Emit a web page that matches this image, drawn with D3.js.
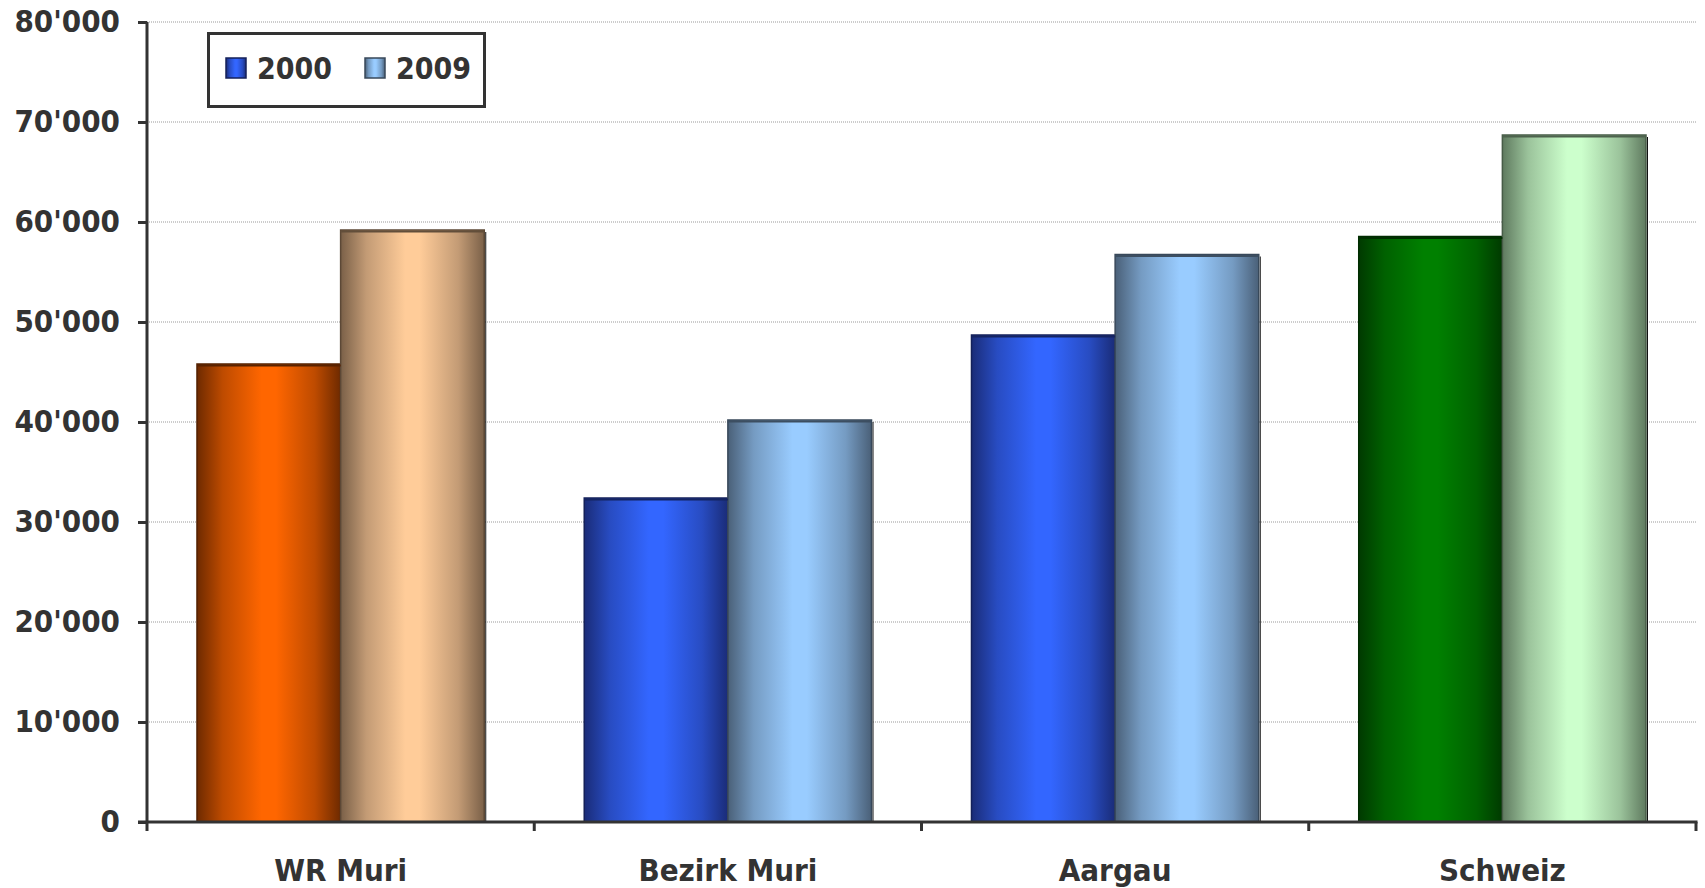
<!DOCTYPE html>
<html><head><meta charset="utf-8">
<script src="https://cdn.jsdelivr.net/npm/d3@7"></script>
<style>
html,body{margin:0;padding:0;background:#fff;}
svg{display:block;}
text{font-family:"DejaVu Sans Condensed","DejaVu Sans",Verdana,sans-serif;font-weight:bold;fill:#333;}
</style></head>
<body>
<svg id="chart" width="1705" height="888"></svg>
<script>
const categories = ["WR Muri", "Bezirk Muri", "Aargau", "Schweiz"];
const series = ["2000", "2009"];
const values2000 = [45800, 32400, 48700, 58550];
const values2009 = [59200, 40200, 56750, 68700];
const yTicks = [0, 10000, 20000, 30000, 40000, 50000, 60000, 70000, 80000];

// styling (edge colour, centre colour) per category per series
const palette = [
  [["#6e2a00", "#ff6600"], ["#7a6048", "#ffcc99"]],
  [["#1a2c78", "#3366ff"], ["#4a6078", "#99ccff"]],
  [["#1a2c78", "#3366ff"], ["#4a6078", "#99ccff"]],
  [["#003a00", "#008000"], ["#5f7a5f", "#ccffcc"]]
];

const svg = d3.select("#chart");
const L = 147, R = 1696, T = 22, B = 822;

const y = d3.scaleLinear().domain([0, 80000]).range([B, T]);
const x0 = d3.scaleBand().domain(categories).range([L, R]).paddingInner(0).paddingOuter(0);
const x1 = d3.scaleBand().domain(series).range([0, x0.bandwidth()]).paddingInner(0).paddingOuter(0.348);

const defs = svg.append("defs");
function grad(id, edge, centre) {
  const g = defs.append("linearGradient").attr("id", id).attr("x1", "0%").attr("x2", "100%").attr("y1", "0%").attr("y2", "0%");
  const mid = d3.interpolateRgb(edge, centre);
  [[0, 0], [0.18, 0.55], [0.45, 1], [0.55, 1], [0.82, 0.55], [1, 0]].forEach(([o, t]) => {
    g.append("stop").attr("offset", o).attr("stop-color", mid(t));
  });
}
palette.forEach((p, ci) => p.forEach((c, si) => grad(`g${ci}_${si}`, c[0], c[1])));

const fmt = v => d3.format(",")(v).replace(/,/g, "'");

// gridlines
svg.append("g").selectAll("line").data(yTicks.filter(t => t > 0)).join("line")
  .attr("x1", L).attr("x2", R).attr("y1", d => y(d)).attr("y2", d => y(d))
  .attr("stroke", "#999").attr("stroke-width", 1).attr("stroke-dasharray", "1,1");

// bars
const data = [];
categories.forEach((c, ci) => {
  data.push({cat: c, ci, s: "2000", si: 0, v: values2000[ci]});
  data.push({cat: c, ci, s: "2009", si: 1, v: values2009[ci]});
});
const bars = svg.append("g");
// thin shadow on right of 2009 bars
bars.selectAll("line.sh").data(data.filter(d => d.si === 1)).join("line").attr("class", "sh")
  .attr("x1", d => x0(d.cat) + x1(d.s) + x1.bandwidth() + 1.5).attr("x2", d => x0(d.cat) + x1(d.s) + x1.bandwidth() + 1.5)
  .attr("y1", d => y(d.v) + 2).attr("y2", y(0))
  .attr("stroke", "#111").attr("stroke-width", 1);
bars.selectAll("rect").data(data).join("rect")
  .attr("x", d => x0(d.cat) + x1(d.s))
  .attr("y", d => y(d.v))
  .attr("width", x1.bandwidth())
  .attr("height", d => y(0) - y(d.v))
  .attr("fill", d => `url(#g${d.ci}_${d.si})`)
  .attr("stroke", d => d3.color(palette[d.ci][d.si][0]).darker(0.8))
  .attr("stroke-width", 1.5);
// top edge
bars.selectAll("line.top").data(data).join("line").attr("class", "top")
  .attr("x1", d => x0(d.cat) + x1(d.s)).attr("x2", d => x0(d.cat) + x1(d.s) + x1.bandwidth())
  .attr("y1", d => y(d.v) + 1.5).attr("y2", d => y(d.v) + 1.5)
  .attr("stroke", d => d3.color(palette[d.ci][d.si][0]).darker(0.6)).attr("stroke-width", 2);

// y axis
const yAxis = d3.axisLeft(y).tickValues(yTicks).tickFormat(fmt).tickSize(9).tickPadding(18);
const gy = svg.append("g").attr("transform", `translate(${L},0)`).call(yAxis);
gy.select(".domain").attr("stroke", "#333").attr("stroke-width", 3).attr("d", `M0,${T}V${B}`);
gy.selectAll(".tick line").attr("stroke", "#333").attr("stroke-width", 3);
gy.selectAll(".tick text").style("font-size", "31px").attr("fill", "#333").attr("font-family", null);

// x axis
const gx = svg.append("g").attr("transform", `translate(0,${B})`);
gx.append("line").attr("x1", L - 9).attr("x2", R + 1.5).attr("y1", 0).attr("y2", 0).attr("stroke", "#333").attr("stroke-width", 3);
const bounds = categories.map(c => x0(c)).concat([R]);
gx.selectAll("line.tk").data(bounds).join("line").attr("class", "tk")
  .attr("x1", d => d).attr("x2", d => d).attr("y1", 0).attr("y2", 9).attr("stroke", "#333").attr("stroke-width", 3);
gx.selectAll("text").data(categories).join("text")
  .attr("x", d => x0(d) + x0.bandwidth() / 2).attr("y", 59)
  .attr("text-anchor", "middle").style("font-size", "31px").text(d => d);

// legend
const lg = svg.append("g");
lg.append("rect").attr("x", 208.5).attr("y", 33.5).attr("width", 276).attr("height", 73)
  .attr("fill", "#fff").attr("stroke", "#333").attr("stroke-width", 3);
const legX = [226, 365];
series.forEach((s, si) => {
  lg.append("rect").attr("x", legX[si]).attr("y", 58).attr("width", 20).attr("height", 20)
    .attr("fill", `url(#g1_${si})`).attr("stroke", d3.color(palette[1][si][0]).darker(0.8)).attr("stroke-width", 1.5);
  lg.append("text").attr("x", legX[si] + 31).attr("y", 79).style("font-size", "30px").text(s);
});
</script>
</body></html>
